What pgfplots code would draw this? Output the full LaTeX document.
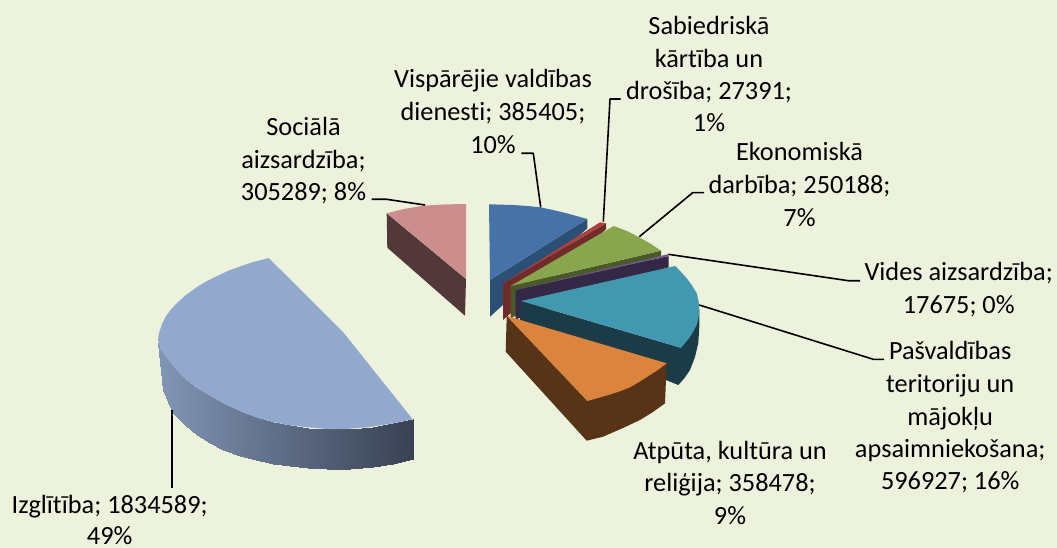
\documentclass[border=0pt]{standalone}
\usepackage{pgfplots}
\pgfplotsset{compat=1.18}
\usepackage{fontspec}
\setmainfont{Carlito}[RawFeature={-liga}]
\definecolor{bg}{RGB}{236,242,220}
\definecolor{eduT}{RGB}{146,168,205}
\definecolor{pinkT}{RGB}{204,142,141}
\definecolor{pinkS}{RGB}{83,56,57}
\definecolor{blueT}{RGB}{70,114,167}
\definecolor{blueS}{RGB}{44,79,117}
\definecolor{redT}{RGB}{170,66,63}
\definecolor{redS}{RGB}{113,43,42}
\definecolor{greenT}{RGB}{137,165,78}
\definecolor{greenS}{RGB}{73,89,40}
\definecolor{purT}{RGB}{113,88,143}
\definecolor{purS}{RGB}{53,40,70}
\definecolor{tealT}{RGB}{65,152,175}
\definecolor{tealS}{RGB}{26,59,71}
\definecolor{orT}{RGB}{219,132,61}
\definecolor{orS}{RGB}{87,51,24}
\newcommand{\lab}[3]{\node[anchor=base,inner sep=0pt,text=black] at (axis cs:#1,#2) {#3};}
\pgfplotsset{leader/.style={black,line width=1.6pt,line join=round}}
\begin{document}
\begin{tikzpicture}
\clip (0,0) rectangle (1057pt,548pt);
\fill[bg] (0,0) rectangle (1057pt,548pt);
\begin{axis}[at={(0,0)},anchor=south west,scale only axis,width=1057pt,height=548pt,
  xmin=0,xmax=1057,ymin=0,ymax=548,y dir=reverse,hide axis,clip=false,no markers,
  colormap={eduside}{rgb255(0cm)=(130,150,182) rgb255(1cm)=(57,65,83)},
  nodes={font=\fontsize{26.3}{32}\selectfont}]
% Izglitiba side
\addplot[patch,patch type=rectangle,shader=interp,point meta=x,point meta min=158,point meta max=413] coordinates {
(158,343)(160,362)(160,349)(158,343)
(160,349)(160,362)(163,390)(163,353)
(163,353)(163,390)(168,402)(168,359.5)
(168,359.5)(168,402)(173,413)(173,365.5)
(173,365.5)(173,413)(185,425)(185,379)
(185,379)(185,425)(197,435)(197,387.5)
(197,387.5)(197,435)(210,443)(210,395)
(210,395)(210,443)(223,449.5)(223,403)
(223,403)(223,449.5)(240,455.5)(240,411)
(240,411)(240,455.5)(256,460)(256,417)
(256,417)(256,460)(273,463.5)(273,422)
(273,422)(273,463.5)(290,466)(290,425)
(290,425)(290,466)(308,468)(308,427.5)
(308,427.5)(308,468)(327,469)(327,429)
(327,429)(327,469)(350,468.5)(350,429)
(350,429)(350,468.5)(373,466.5)(373,426.5)
(373,426.5)(373,466.5)(393,463.5)(393,423.3)
(393,423.3)(393,463.5)(413,459)(413,419.3)
};
% Izglitiba top
\addplot[fill=eduT,draw=none] coordinates {(268.7,258)(343,332)(412.7,419.3)(395,423)(370,427)(345,429)(327,429)(305,427)(288,425)(273,422)(260,418.5)(247,414)(235,409)(223,403)(212,397)(202,391)(192,384)(183,377)(176,369.5)(170,362)(163,353)(160,347)(158,340)(159,333)(162,324)(166,316)(171,309.5)(177,303)(186,295)(197,287)(206,281.5)(215,277)(230,270)(250,263)};
% Sociala
\addplot[fill=pinkS,draw=none] coordinates {(386.7,213.3)(387.3,247.7)(465,315.7)(466,279)};
\addplot[fill=pinkT,draw=none] coordinates {(386.7,213.3)(404,209)(423.3,205.7)(445,204.4)(466,204)(466,279)};
% Visparejie
\addplot[fill=blueS,draw=none] coordinates {(587.3,219)(587.3,228.3)(490,316.7)(490,280)};
\addplot[fill=blueT,draw=none] coordinates {(489,204.3)(513.3,205)(527,206)(540,207.3)(553,210)(566.7,213.3)(587.3,219)(490,280)};
% Sabiedriska
\addplot[fill=redS,draw=none] coordinates {(606,223.3)(606,229.3)(503,320)(503.3,283.3)};
\addplot[fill=redT,draw=none] coordinates {(503.3,283.3)(600,222.3)(606,223.3)};
% Ekonomiska
\addplot[fill=greenS,draw=none] coordinates {(661,250.7)(661,255.7)(510.7,318)(510.7,286)};
\addplot[fill=greenT,draw=none] coordinates {(510.7,286)(613.7,226)(628,231.5)(640,237.7)(651,244)(661,250.7)};
% Vides
\addplot[fill=purS,draw=none] coordinates {(668.7,256)(668.7,267.3)(515.7,319.3)(515.7,290)};
\addplot[fill=purT,draw=none] coordinates {(515.7,290)(667.7,254.3)(668.7,256)};
% Pasvaldibas
\addplot[fill=tealS,draw=none] coordinates {(521,301)(680.7,347.7)(690,336.7)(699.3,310)(699.3,327)(698.3,343)(695,357)(690,370)(684.5,378)(678.3,385)(520,322)};
\addplot[fill=tealT,draw=none] coordinates {(521,301)(675,266)(681,272)(686.7,278.3)(692,285.5)(696.7,293.3)(698.6,301)(699.3,310)(698.5,318)(696.7,325)(693.5,331)(690,336.7)(685.5,342.5)(680.7,347.7)};
% Atputa
\addplot[fill=orS,draw=none] coordinates {(506.7,316)(505.7,351.7)(586.7,440.7)(603,436.7)(623,428)(640,420)(653,412)(665,403.3)(666.7,363.3)};
\addplot[fill=orT,draw=none] coordinates {(506.7,316)(666.7,363.3)(658.5,369.5)(650,375)(640,381.5)(630,387.3)(620,391.3)(610,394.5)(598,398)(587.3,401)};
% Leaders
\addplot[leader] coordinates {(171.7,410)(171.7,488.3)};
\addplot[leader] coordinates {(371.7,199.3)(386.7,199.3)(425,205)};
\addplot[leader] coordinates {(521.3,153.3)(533.3,153.3)(540.7,207.3)};
\addplot[leader] coordinates {(620.7,99)(610,99)(603.3,221.7)};
\addplot[leader] coordinates {(704,192.7)(692.7,192.7)(639.3,236.7)};
\addplot[leader] coordinates {(668.3,254.3)(848.3,280.7)(860,280.7)};
\addplot[leader] coordinates {(699.3,305)(873.3,359.3)(884,359.3)};
% Labels
\lab{709}{35}{Sabiedriskā}
\lab{709}{67.5}{kārtība un}
\lab{709}{100}{drošība; 27391;}
\lab{709}{132}{1\%}
\lab{493}{88}{Vispārējie valdības}
\lab{493}{121}{dienesti; 385405;}
\lab{493}{154}{10\%}
\lab{799.5}{160.7}{Ekonomiskā}
\lab{799.5}{193.3}{darbība; 250188;}
\lab{799.5}{226.7}{7\%}
\lab{958.7}{280.7}{Vides aizsardzība;}
\lab{958.7}{313.3}{17675; 0\%}
\lab{950.2}{359.3}{Pašvaldības}
\lab{950.2}{392.3}{teritoriju un}
\lab{950.2}{425}{mājokļu}
\lab{950.2}{457.3}{apsaimniekošana;}
\lab{950.2}{489.3}{596927; 16\%}
\lab{730}{459}{Atpūta, kultūra un}
\lab{730}{491.7}{reliģija; 358478;}
\lab{730}{524.3}{9\%}
\lab{303.5}{135.7}{Sociālā}
\lab{303.5}{168.3}{aizsardzība;}
\lab{303.5}{200.7}{305289; 8\%}
\lab{109.7}{513.3}{Izglītība; 1834589;}
\lab{109.7}{544.5}{49\%}
\end{axis}
\end{tikzpicture}
\end{document}
